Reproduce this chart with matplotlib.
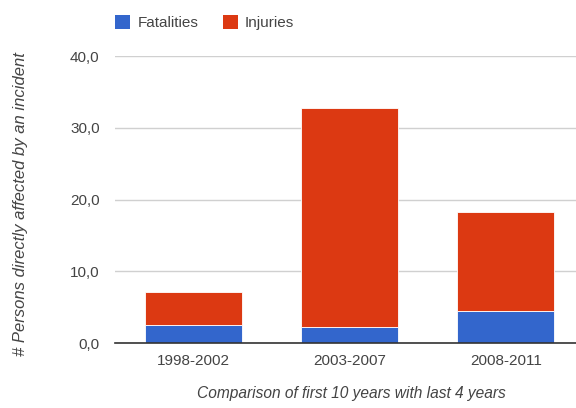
import numpy as np
import matplotlib.pyplot as plt
from matplotlib.patches import Patch

plt.rcParams['font.family'] = ['Liberation Sans', 'DejaVu Sans']

# ---- data ----
periods = ['1998-2002', '2003-2007', '2008-2011']
fatalities = [2.5, 2.3, 4.5]
injuries = [4.6, 30.4, 13.8]
yticks = [0, 10, 20, 30, 40]
ytick_labels = ['0,0', '10,0', '20,0', '30,0', '40,0']

blue = '#3366cc'
red = '#dc3912'
txt = '#444444'

fig = plt.figure(figsize=(5.76, 4.08), dpi=100)
ax = fig.add_axes([0.1997, 0.1593, 0.814, 0.7034])

x = np.arange(len(periods))
ax.bar(x, fatalities, width=0.62, color=blue, edgecolor='white', linewidth=0.6, zorder=3)
ax.bar(x, injuries, width=0.62, bottom=fatalities, color=red, edgecolor='white', linewidth=0.6, zorder=3)

ax.set_xlim(-0.5, 2.5)
ax.set_ylim(0, 40)
ax.set_yticks(yticks)
ax.set_yticklabels(ytick_labels)
ax.set_xticks(x)
ax.set_xticklabels(periods)
ax.tick_params(axis='both', length=0, labelsize=11, colors=txt)
ax.tick_params(axis='y', pad=11)
ax.tick_params(axis='x', pad=8)

ax.grid(axis='y', color='#d0d0d0', linewidth=1, zorder=0)
for s in ['top', 'right', 'left']:
    ax.spines[s].set_visible(False)
ax.spines['bottom'].set_color('#333333')
ax.spines['bottom'].set_linewidth(1.2)
ax.spines['bottom'].set_zorder(4)

# axis titles
fig.text(0.036, 0.5, '# Persons directly affected by an incident', rotation=90,
         ha='center', va='center', style='italic', fontsize=12, color=txt)
fig.text(0.61, 0.035, 'Comparison of first 10 years with last 4 years',
         ha='center', va='center', style='italic', fontsize=11.2, color=txt)

# legend
handles = [Patch(facecolor=blue, label='Fatalities'), Patch(facecolor=red, label='Injuries')]
leg = fig.legend(handles=handles, loc='center left', bbox_to_anchor=(0.2, 0.944),
                 ncol=2, frameon=False, fontsize=11, handlelength=1.0, handleheight=1.0,
                 handletextpad=0.45, columnspacing=1.6, borderpad=0, borderaxespad=0)
for t in leg.get_texts():
    t.set_color(txt)

fig.savefig('out.png', dpi=100)
